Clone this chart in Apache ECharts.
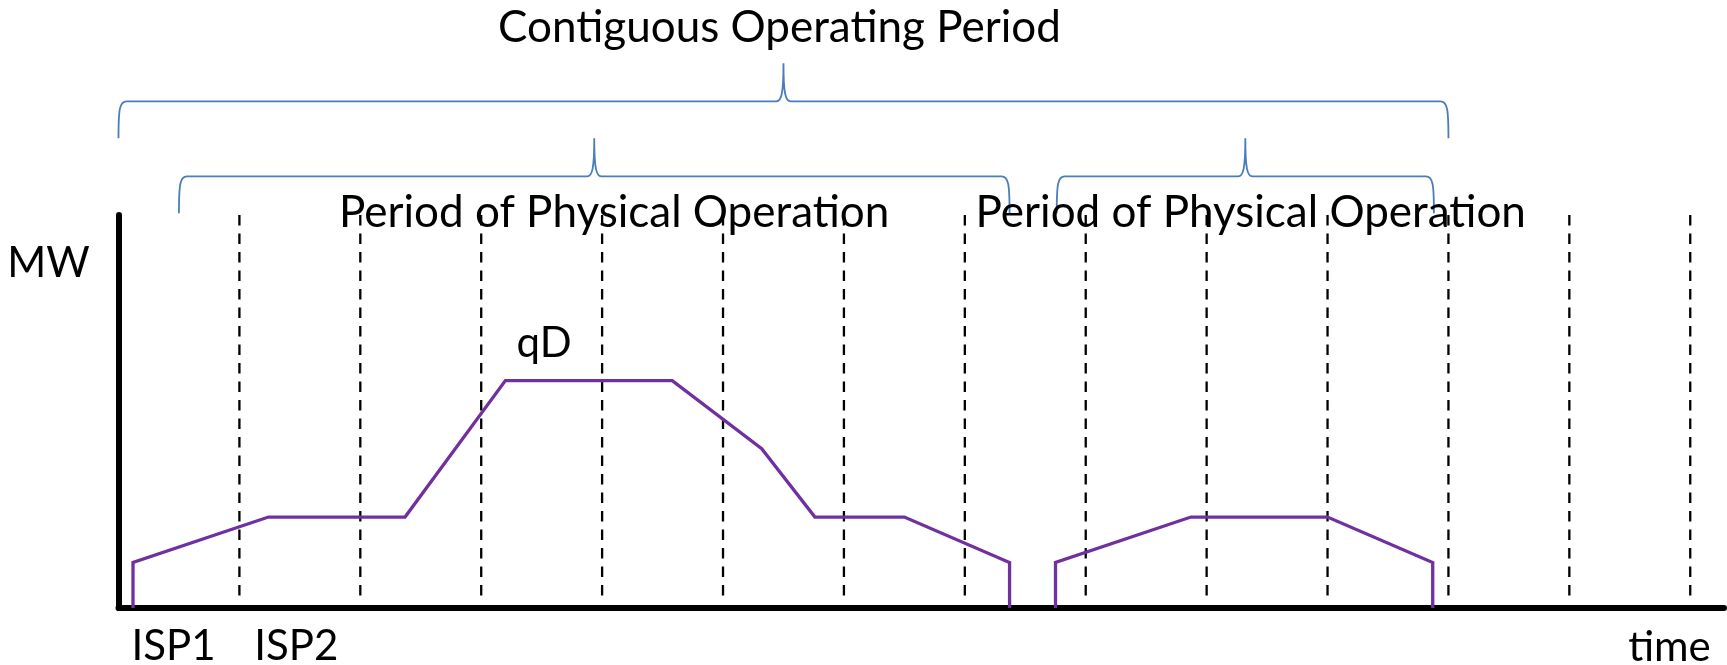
<!DOCTYPE html>
<html>
<head>
<meta charset="utf-8">
<title>Contiguous Operating Period</title>
<script src="https://cdn.jsdelivr.net/npm/echarts@6/dist/echarts.min.js"></script>
<style>
  html, body { margin: 0; padding: 0; background: #ffffff; }
  #chart { width: 1727px; height: 665px; }
</style>
</head>
<body>
<div id="chart"></div>
<script>
// Output profile of the unit, in settlement periods (x) and MW (y).
const runOne = [[0.12, 0], [0.12, 1], [1.24, 2], [2.37, 2], [3.20, 5], [4.58, 5],
                [5.32, 3.5], [5.76, 2], [6.50, 2], [7.37, 1], [7.37, 0]];
const runTwo = [[7.75, 0], [7.75, 1], [8.87, 2], [10.0, 2], [10.87, 1], [10.87, 0]];

// Boundaries between imbalance settlement periods.
const ispBounds = [1, 2, 3, 4, 5, 6, 7, 8, 9, 10, 11, 12, 13];

// Braces over the time axis: start, end, and which row they sit on.
const braceFrom = [0, 0.5, 7.76];
const braceTo   = [11, 7.37, 10.88];
const braceRow  = [0, 1, 1];

// Text annotations and their anchor points (x in periods, y in MW units).
const noteText = ['Contiguous Operating Period', 'Period of Physical Operation',
                  'Period of Physical Operation', 'qD'];
const noteX = [5.467, 4.10, 9.365, 3.52];
const noteY = [12.75, 8.69, 8.69, 5.82];

// Period labels under the time axis.
const tickLabels = ['ISP1', 'ISP2'];
const tickAt = [0.455, 1.47];

// Axis names.
const axisNames = ['MW', 'time'];

const FONT = 'Lato, "Open Sans", sans-serif';
const ROW_LEVEL = [11.14, 9.49];
const Y_TOP = 8.64;

const chart = echarts.init(document.getElementById('chart'), null, { renderer: 'canvas' });

function bracePath(xl, xr, xm, y) {
  const drop = 37, rise = 38;
  return 'M' + xl + ' ' + (y + drop) +
    ' C' + xl + ' ' + (y + 8) + ' ' + (xl + 1) + ' ' + y + ' ' + (xl + 8) + ' ' + y +
    ' L' + (xm - 7) + ' ' + y +
    ' C' + (xm - 2) + ' ' + y + ' ' + xm + ' ' + (y - 8) + ' ' + xm + ' ' + (y - rise) +
    ' C' + xm + ' ' + (y - 8) + ' ' + (xm + 2) + ' ' + y + ' ' + (xm + 7) + ' ' + y +
    ' L' + (xr - 8) + ' ' + y +
    ' C' + (xr - 1) + ' ' + y + ' ' + xr + ' ' + (y + 8) + ' ' + xr + ' ' + (y + drop);
}

function textItem(api, text, x, y, size, align) {
  const p = api.coord([x, y]);
  return {
    type: 'text',
    x: p[0],
    y: p[1],
    style: {
      text: text,
      fill: '#000000',
      fontFamily: FONT,
      fontSize: size,
      align: align || 'center',
      verticalAlign: 'middle'
    }
  };
}

const option = {
  animation: false,
  backgroundColor: '#ffffff',
  grid: { left: 118.5, right: 2.9, top: 215, bottom: 57, containLabel: false },
  xAxis: {
    type: 'value',
    min: 0,
    max: 13.28,
    axisLine: { show: true, onZero: false, lineStyle: { color: '#000000', width: 6 } },
    axisTick: { show: false },
    axisLabel: { show: false },
    splitLine: { show: false }
  },
  yAxis: {
    type: 'value',
    min: 0,
    max: Y_TOP,
    axisLine: { show: true, onZero: false, lineStyle: { color: '#000000', width: 6 } },
    axisTick: { show: false },
    axisLabel: { show: false },
    splitLine: { show: false }
  },
  series: [
    {
      // dashed period boundaries
      type: 'custom',
      clip: false,
      data: ispBounds.map(b => [b]),
      encode: { x: 0 },
      renderItem: function (params, api) {
        const top = api.coord([api.value(0), Y_TOP]);
        const bottom = api.coord([api.value(0), 0]);
        return {
          type: 'line',
          shape: { x1: top[0], y1: top[1], x2: bottom[0], y2: bottom[1] - 9 },
          style: { stroke: '#000000', lineWidth: 2.3, lineDash: [10.5, 8] }
        };
      },
      z: 1
    },
    {
      type: 'line',
      data: runOne,
      symbol: 'none',
      lineStyle: { color: '#7030A0', width: 3.3, join: 'miter', cap: 'butt' },
      z: 5
    },
    {
      type: 'line',
      data: runTwo,
      symbol: 'none',
      lineStyle: { color: '#7030A0', width: 3.3, join: 'miter', cap: 'butt' },
      z: 5
    },
    {
      type: 'custom',
      clip: false,
      data: braceFrom.map((f, i) => [f, braceTo[i], braceRow[i]]),
      renderItem: function (params, api) {
        const level = ROW_LEVEL[api.value(2)];
        const l = api.coord([api.value(0), level]);
        const r = api.coord([api.value(1), level]);
        const m = (l[0] + r[0]) / 2;
        return {
          type: 'path',
          shape: { pathData: bracePath(l[0], r[0], m, l[1]) },
          style: { fill: 'none', stroke: '#4A7EBB', lineWidth: 1.8 }
        };
      },
      z: 4
    },
    {
      type: 'custom',
      clip: false,
      data: noteText.map((t, i) => [noteX[i], noteY[i], i]),
      renderItem: function (params, api) {
        const i = api.value(2);
        return textItem(api, noteText[i], api.value(0), api.value(1), i < 3 ? 44 : 42);
      },
      z: 6
    },
    {
      type: 'custom',
      clip: false,
      data: tickLabels.map((t, i) => [tickAt[i], -0.835, i]),
      renderItem: function (params, api) {
        return textItem(api, tickLabels[api.value(2)], api.value(0), api.value(1), 42);
      },
      z: 6
    },
    {
      type: 'custom',
      clip: false,
      data: [[-0.58, 7.58, 0], [13.17, -0.87, 1]],
      renderItem: function (params, api) {
        const i = api.value(2);
        return textItem(api, axisNames[i], api.value(0), api.value(1), 42, i === 1 ? 'right' : 'center');
      },
      z: 6
    }
  ]
};

chart.setOption(option);
</script>
</body>
</html>
